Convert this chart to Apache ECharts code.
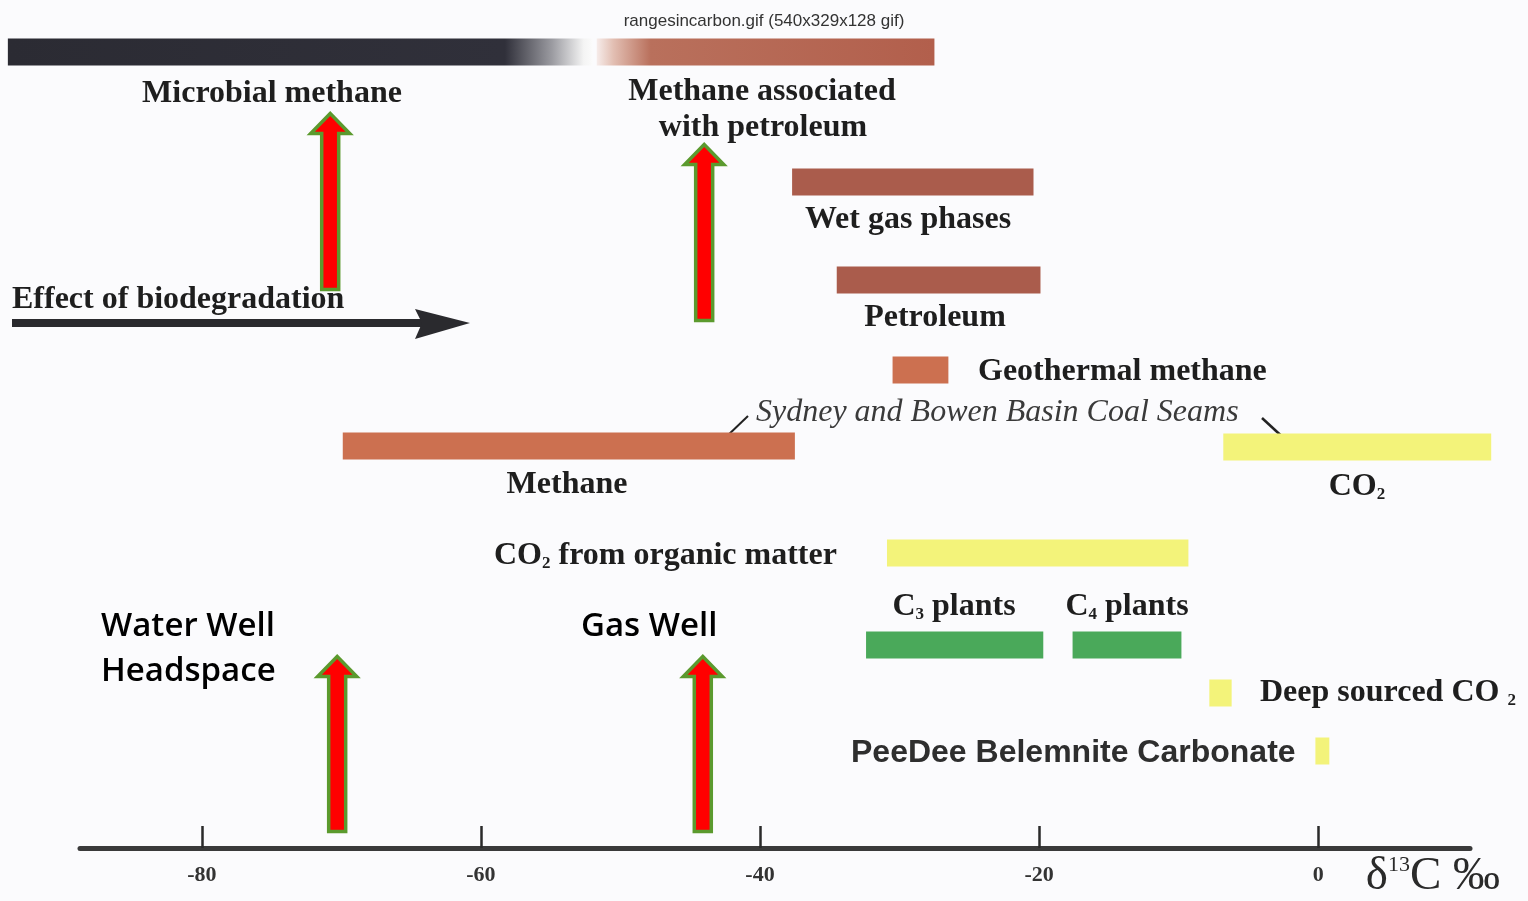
<!DOCTYPE html>
<html><head><meta charset="utf-8">
<script src="https://cdn.jsdelivr.net/npm/echarts@6/dist/echarts.min.js"></script>
<style>html,body{margin:0;padding:0;background:#fbfbfd}#c{width:1528px;height:901px}</style>
</head><body><div id="c"></div>
<script>
// ---- data (δ13C ‰ ranges) ----
const rangeNames = ['Microbial methane','Methane associated with petroleum','Wet gas phases','Petroleum','Geothermal methane','Coal seam methane','Coal seam CO2','CO2 from organic matter','C3 plants','C4 plants','Deep sourced CO2','PeeDee Belemnite Carbonate'];
const rangeLow  = [-93.9, -51.7, -37.7, -34.5, -30.5, -69.9, -6.8, -30.9, -32.4, -17.6, -7.8, -0.2];
const rangeHigh = [-52.0, -27.5, -20.4, -19.9, -26.5, -37.5, 12.4, -9.3, -19.7, -9.8, -6.2, 0.8];
const rangeRow  = [52, 52, 182, 280, 370, 446, 447, 553, 645, 645, 693, 751];
const rangeKind = ['microbial','thermogenic','petro','petro','geo','geo','co2','co2','plant','plant','co2','co2'];
const wellNames  = ['Water Well Headspace','Gas Well','Water Well Headspace','Gas Well'];
const wellValues = [-70.8, -44.0, -70.3, -44.1];
const tickValues = [-80, -60, -40, -20, 0];

// ---- layout / style (not data) ----
const wellTip  = [112, 143, 655, 655];
const wellBase = [291, 322, 833, 833];
const BAR_H = 27;
const G = echarts.graphic;
const fills = {
  microbial: new G.LinearGradient(0,0,1,0,[{offset:0,color:'#2b2b33'},{offset:0.85,color:'#30303a'},{offset:0.93,color:'#9a9aa0'},{offset:0.985,color:'#f4f4f4'},{offset:1,color:'#fbfbfb'}]),
  thermogenic: new G.LinearGradient(0,0,1,0,[{offset:0,color:'#f6ecea'},{offset:0.05,color:'#e2beb2'},{offset:0.16,color:'#b9705c'},{offset:1,color:'#b25f4c'}]),
  petro: '#aa5c4c',
  geo: '#cc7050',
  co2: '#f3f37a',
  plant: '#4aa95a'
};
const FS = 32;
const serifB = {fontFamily:'Liberation Serif', fontWeight:'bold', fill:'#1e1e1e', fontSize:FS};

const rangeData = rangeNames.map((n,i)=>({name:n, value:[rangeLow[i], rangeHigh[i], rangeRow[i]]}));
const wellData = wellNames.map((n,i)=>({name:n, value:[wellValues[i], wellTip[i], wellBase[i]]}));

function renderRange(params, api){
  const a = api.coord([api.value(0), api.value(2)]);
  const b = api.coord([api.value(1), api.value(2)]);
  return {type:'rect', shape:{x:a[0], y:a[1]-BAR_H/2, width:b[0]-a[0], height:BAR_H},
    style:{fill: fills[rangeKind[params.dataIndex]]}};
}
function renderWell(params, api){
  const t = api.coord([api.value(0), api.value(1)]);
  const b = api.coord([api.value(0), api.value(2)]);
  const x = t[0], sw = 8.5, hw = 19.5, hh = 20;
  const y0 = t[1]+1.5, y1 = b[1]-1.5;
  return {type:'polygon', shape:{points:[[x,y0],[x+hw,y0+hh],[x+sw,y0+hh],[x+sw,y1],[x-sw,y1],[x-sw,y0+hh],[x-hw,y0+hh]]},
    style:{fill:'#ff0000', stroke:'#5b9a2e', lineWidth:3.5, lineJoin:'miter'}};
}

const DY = 2;
function txt(x,y,text,style){ return {type:'text', x:x, y:y+DY, style:Object.assign({text:text, textVerticalAlign:'middle'}, style)}; }
const sub = {s:{fontSize:17, fontFamily:'Liberation Serif', fontWeight:'bold', fill:'#1e1e1e', padding:[16,0,0,0]}};
const S = (o)=>Object.assign({}, serifB, o);
const labels = [
  txt(764,19,'rangesincarbon.gif (540x329x128 gif)',{fontFamily:'Liberation Sans', fontSize:17, fill:'#333', textAlign:'center'}),
  txt(272,92,'Microbial methane',S({textAlign:'center'})),
  txt(762,90,'Methane associated',S({textAlign:'center'})),
  txt(763,126,'with petroleum',S({textAlign:'center'})),
  txt(908,218,'Wet gas phases',S({textAlign:'center'})),
  txt(935,316,'Petroleum',S({textAlign:'center'})),
  txt(978,370,'Geothermal methane',S({textAlign:'left'})),
  txt(756,411,'Sydney and Bowen Basin Coal Seams',{fontFamily:'Liberation Serif', fontStyle:'italic', fontSize:32, fill:'#3a3a3a', textAlign:'left'}),
  txt(567,483,'Methane',S({textAlign:'center'})),
  txt(1357,485,'CO{s|2}',S({textAlign:'center', rich:sub})),
  txt(494,554,'CO{s|2} from organic matter',S({textAlign:'left', rich:sub})),
  txt(954,605,'C{s|3} plants',S({textAlign:'center', rich:sub})),
  txt(1127,605,'C{s|4} plants',S({textAlign:'center', rich:sub})),
  txt(1260,691,'Deep sourced CO {s|2}',S({textAlign:'left', rich:sub})),
  txt(851,751,'PeeDee Belemnite Carbonate',{fontFamily:'Liberation Sans', fontWeight:'bold', fontSize:32, fill:'#2e2e2e', textAlign:'left'}),
  txt(12,298,'Effect of biodegradation',S({textAlign:'left'})),
  txt(101,625,'Water Well',{fontFamily:'Open Sans', fontWeight:600, fontSize:33, fill:'#000', textAlign:'left'}),
  txt(101,670,'Headspace',{fontFamily:'Open Sans', fontWeight:600, fontSize:33, fill:'#000', textAlign:'left'}),
  txt(581,625,'Gas Well',{fontFamily:'Open Sans', fontWeight:600, fontSize:33, fill:'#000', textAlign:'left'}),
  {type:'line', shape:{x1:725,y1:438,x2:748,y2:416}, style:{stroke:'#222', lineWidth:2}},
  {type:'line', shape:{x1:1262,y1:418,x2:1288,y2:442}, style:{stroke:'#222', lineWidth:2.5}},
  {type:'rect', shape:{x:12,y:319,width:410,height:8}, style:{fill:'#2a2a2e'}},
  {type:'polygon', shape:{points:[[415,309],[470,323],[415,339],[422,323]]}, style:{fill:'#2a2a2e'}}
];

const chart = echarts.init(document.getElementById('c'), null, {renderer:'canvas'});
chart.setOption({
  backgroundColor:'#fbfbfd',
  animation:false,
  grid:{left:80, right:58, top:0, bottom:53},
  xAxis:{type:'value', position:'bottom', min:-88.73, max:10.88,
    name:'{d|δ}{s|13}{d|C ‰}', nameLocation:'end', nameGap:30,
    nameTextStyle:{align:'right', verticalAlign:'top', padding:[6,0,0,0],
      rich:{d:{fontFamily:'Liberation Serif', fontSize:47, color:'#2a2a2a', lineHeight:46},
            s:{fontFamily:'Liberation Serif', fontSize:22, color:'#2a2a2a', verticalAlign:'top', lineHeight:22}}},
    axisLine:{onZero:false, lineStyle:{color:'#3a3a3a', width:5}},
    axisTick:{show:true, inside:true, length:22, customValues:tickValues, lineStyle:{color:'#2a2a2a', width:2.5}},
    axisLabel:{customValues:tickValues, margin:16, fontFamily:'Liberation Serif', fontWeight:'bold', fontSize:22, color:'#333', formatter:v=>String(v)},
    splitLine:{show:false}},
  yAxis:{type:'value', min:0, max:848, inverse:true, show:false, splitLine:{show:false}},
  series:[
    {type:'custom', name:'ranges', renderItem:renderRange, data:rangeData, clip:false, encode:{x:[0,1], y:2}},
    {type:'custom', name:'wells', renderItem:renderWell, data:wellData, clip:false, encode:{x:0, y:[1,2]}, z:5}
  ],
  graphic:{elements:labels}
});
</script></body></html>
